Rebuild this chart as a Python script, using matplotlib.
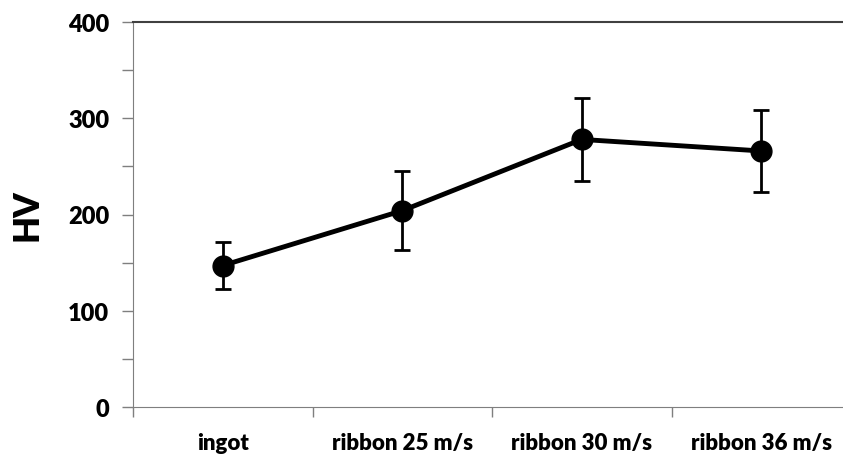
import matplotlib.pyplot as plt
import numpy as np

# hardness data
samples = ['ingot', 'ribbon 25 m/s', 'ribbon 30 m/s', 'ribbon 36 m/s']
hv = [147, 204, 278, 266]
hv_err = [24, 41, 43, 43]

plt.rcParams['font.family'] = ['Lato', 'DejaVu Sans']
plt.rcParams['font.weight'] = 'heavy'

fig = plt.figure(figsize=(8.43, 4.64), dpi=100)
W, H = 843, 464
# axes runs a bit past the right edge of the picture, like the original crop
left, right, top, bottom = 133, 851, 23, 408
ax = fig.add_axes([left / W, 1 - bottom / H, (right - left) / W, (bottom - top) / H])

x = np.arange(len(samples))
ax.errorbar(x, hv, yerr=hv_err, color='black', lw=3.5, marker='o', ms=15,
            elinewidth=2, capsize=6, capthick=2)

ax.set_xlim(-0.5, len(samples) - 0.5)
ax.set_ylim(0, 400)

ax.set_yticks([0, 100, 200, 300, 400])
ax.set_yticks([50, 150, 250, 350], minor=True)
ax.set_xticks(np.arange(len(samples) + 1) - 0.5)
ax.set_xticklabels([])
ax.set_xticks(x, minor=True)
ax.set_xticklabels(samples, minor=True)

ax.tick_params(axis='y', which='both', direction='out', length=8, width=1,
               color='#7f7f7f', labelsize=17, pad=9)
ax.tick_params(axis='x', which='major', direction='out', length=7, width=1,
               color='#7f7f7f')
ax.tick_params(axis='x', which='minor', length=0, labelsize=16, pad=18)

ax.spines['right'].set_visible(False)
ax.spines['left'].set_color('#7f7f7f')
ax.spines['bottom'].set_color('#7f7f7f')
ax.spines['top'].set_color('#404040')
ax.spines['top'].set_linewidth(1.5)

ax.set_ylabel('HV', fontsize=25, fontweight='heavy', labelpad=18)

fig.savefig('out.png', dpi=100)
